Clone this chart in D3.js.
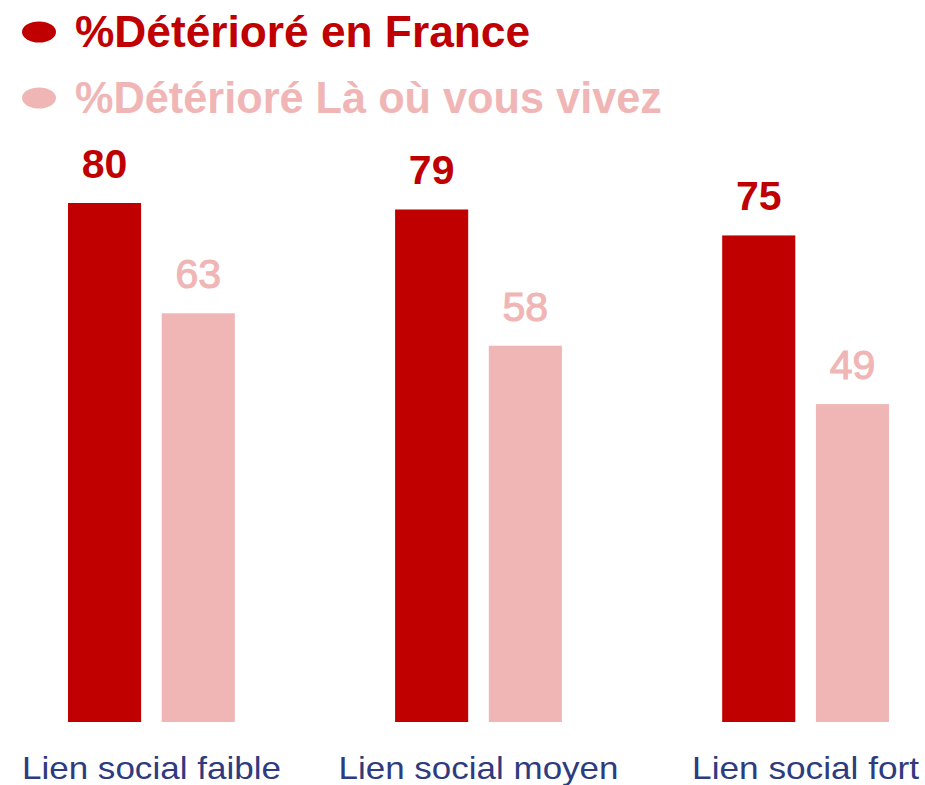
<!DOCTYPE html>
<html>
<head>
<meta charset="utf-8">
<script src="https://cdn.jsdelivr.net/npm/d3@7"></script>
<style>
  body { margin: 0; background: #fff; }
  svg { display: block; font-family: "Liberation Sans", Arial, sans-serif; }
</style>
</head>
<body>
<svg id="chart" width="925" height="785"></svg>
<script>
let categories = ["Lien social faible", "Lien social moyen", "Lien social fort"];
let series = ["%Détérioré en France", "%Détérioré Là où vous vivez"];
let france = [80, 79, 75];
let local = [63, 58, 49];

let colors = ["#C00000", "#F0B6B6"];
let labelColor = "#2E3B7E";

let svg = d3.select("#chart");
let width = 925, height = 785;

let x = d3.scaleBand().domain(categories).range([68, 889]).paddingInner(0.49).paddingOuter(0);
let xs = d3.scaleBand().domain(series).range([0, x.bandwidth()]).paddingInner(0.22);
let y = d3.scaleLinear().domain([0, 100]).range([722, 73.25]);

let rows = categories.map((c, i) => ({cat: c, vals: [france[i], local[i]]}));

let groups = svg.selectAll(".grp")
  .data(rows)
  .enter()
  .append("g")
  .attr("class", "grp")
  .attr("transform", d => "translate(" + x(d.cat) + ",0)");

let bars = groups.selectAll(".bar")
  .data(d => d.vals.map((v, j) => ({s: series[j], v: v, j: j})))
  .enter();

bars.append("rect")
  .attr("x", d => xs(d.s))
  .attr("y", d => y(d.v))
  .attr("width", xs.bandwidth())
  .attr("height", d => y(0) - y(d.v))
  .attr("fill", d => colors[d.j]);

// value labels, the light series is a medium weight
bars.append("text")
  .attr("x", d => xs(d.s) + xs.bandwidth() / 2)
  .attr("y", d => y(d.v) - 25)
  .attr("text-anchor", "middle")
  .style("font-size", "41px")
  .style("font-weight", d => d.j == 0 ? "bold" : "normal")
  .attr("fill", d => colors[d.j])
  .attr("stroke", d => d.j == 0 ? "none" : colors[1])
  .attr("stroke-width", 1.1)
  .text(d => d.v);

// category labels
svg.selectAll(".cat")
  .data(categories)
  .enter()
  .append("text")
  .attr("class", "cat")
  .attr("x", d => x(d) + x.bandwidth() / 2)
  .attr("y", 779)
  .attr("text-anchor", "middle")
  .style("font-size", "32px")
  .attr("fill", labelColor)
  .attr("textLength", (d, i) => [259, 280, 227][i])
  .attr("lengthAdjust", "spacingAndGlyphs")
  .text(d => d);

// legend
let legend = svg.selectAll(".leg")
  .data(series)
  .enter()
  .append("g")
  .attr("class", "leg")
  .attr("transform", (d, i) => "translate(0," + i * 66 + ")");

legend.append("ellipse")
  .attr("cx", 39)
  .attr("cy", 32)
  .attr("rx", 17)
  .attr("ry", 10.5)
  .attr("fill", (d, i) => colors[i]);

legend.append("text")
  .attr("x", 75)
  .attr("y", 47)
  .style("font-size", "45px")
  .style("font-weight", "bold")
  .attr("fill", (d, i) => colors[i])
  .attr("textLength", (d, i) => [455, 587][i])
  .attr("lengthAdjust", "spacingAndGlyphs")
  .text(d => d);
</script>
</body>
</html>
